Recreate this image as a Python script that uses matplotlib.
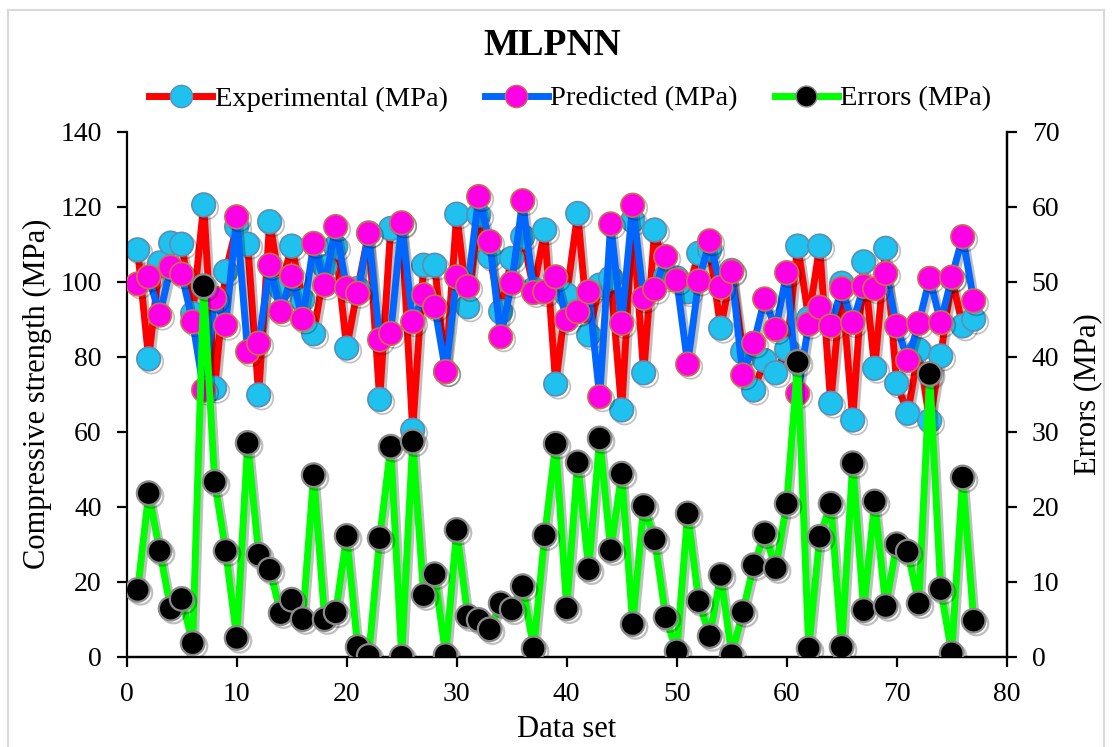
import numpy as np
import matplotlib
matplotlib.use('Agg')
import matplotlib.pyplot as plt
import matplotlib.patheffects as pe
from matplotlib.lines import Line2D
from matplotlib.patches import Rectangle

plt.rcParams['font.family'] = ['Liberation Serif', 'DejaVu Serif']

# compressive strength per sample, MPa
experimental = [108.5, 79.4, 105.0, 110.3, 110.0, 91.5, 120.5, 71.6, 102.7, 114.7,
                110.0, 69.8, 116.0, 98.2, 109.5, 95.1, 86.1, 104.0, 109.3, 82.3,
                98.2, 113.0, 68.6, 114.2, 115.5, 60.4, 104.4, 104.4, 76.0, 118.0,
                93.3, 117.8, 106.7, 92.0, 106.2, 112.0, 98.0, 113.8, 72.7, 96.5,
                118.2, 85.8, 99.1, 101.0, 65.8, 116.3, 75.7, 113.8, 101.3, 101.0,
                97.3, 107.6, 108.5, 87.6, 103.0, 81.3, 71.1, 79.0, 75.7, 82.0,
                109.5, 90.2, 109.5, 67.6, 99.6, 63.1, 105.3, 76.9, 108.9, 72.9,
                64.9, 81.8, 62.9, 80.2, 101.0, 88.2, 90.0]
predicted = [99.4, 101.3, 91.1, 103.9, 102.0, 89.3, 71.1, 95.6, 88.4, 117.3,
             81.3, 83.6, 104.4, 92.0, 101.5, 90.0, 110.2, 99.1, 114.7, 98.3,
             96.9, 112.9, 84.5, 86.2, 115.7, 89.3, 96.5, 93.3, 76.0, 101.3,
             98.7, 122.7, 110.7, 85.3, 99.6, 121.6, 97.1, 97.3, 101.3, 89.8,
             92.0, 97.3, 69.3, 115.4, 88.9, 120.4, 95.6, 98.0, 106.7, 100.4,
             78.0, 100.2, 110.9, 98.5, 102.7, 75.1, 83.6, 95.4, 87.3, 102.4,
             70.2, 88.7, 93.2, 88.2, 98.2, 89.1, 98.8, 98.1, 102.2, 88.2,
             79.0, 88.9, 100.9, 89.1, 101.2, 112.0, 94.9]
errors = [8.9, 21.8, 14.1, 6.4, 7.7, 1.8, 49.4, 23.3, 14.1, 2.5,
          28.5, 13.6, 11.6, 5.8, 7.6, 5.0, 24.2, 5.0, 5.9, 16.1,
          1.3, 0.1, 15.8, 28.0, 0.0, 28.7, 8.2, 11.0, 0.2, 16.9,
          5.4, 4.9, 3.65, 7.1, 6.3, 9.4, 1.1, 16.2, 28.4, 6.45,
          25.9, 11.65, 29.1, 14.2, 24.4, 4.35, 20.1, 15.65, 5.25, 0.7,
          19.1, 7.4, 2.75, 10.9, 0.2, 5.96, 12.2, 16.45, 11.8, 20.4,
          39.3, 1.1, 16.0, 20.4, 1.3, 25.8, 6.2, 20.7, 6.75, 15.0,
          14.0, 7.1, 37.7, 9.0, 0.45, 23.9, 4.8]
data_set = np.arange(1, len(experimental) + 1)

shadow = [pe.SimpleLineShadow(offset=(2, -2), alpha=0.25, rho=0.6), pe.Normal()]

fig = plt.figure(figsize=(11.12, 7.47), dpi=100)
fig.patches.append(Rectangle((0.007, -0.01), 0.986, 0.997, transform=fig.transFigure,
                             fill=False, edgecolor='#d9d9d9', linewidth=1.5))
ax = fig.add_axes([0.1139, 0.1209, 0.7914, 0.7028])
ax2 = ax.twinx()

ax.plot(data_set, experimental, color='#ff0000', lw=5, marker='o', ms=17,
        mfc='#1fc1ef', mec='#5a8fb5', mew=1.2, path_effects=shadow, zorder=2)
ax.plot(data_set, predicted, color='#0066ff', lw=5, marker='o', ms=17,
        mfc='#ff00e6', mec='#c87050', mew=1.2, path_effects=shadow, zorder=3)
ax2.plot(data_set, errors, color='#00ff00', lw=5, marker='o', ms=17,
         mfc='black', mec='#8a8a8a', mew=1.6, path_effects=shadow, zorder=3)

ax.set_xlim(0, 80)
ax.set_ylim(0, 140)
ax2.set_ylim(0, 70)
ax.set_xticks(range(0, 81, 10))
ax.set_yticks(range(0, 141, 20))
ax2.set_yticks(range(0, 71, 10))

for a in (ax, ax2):
    a.spines['top'].set_visible(False)
    for s in a.spines.values():
        s.set_linewidth(1.6)
    a.tick_params(direction='out', length=7, width=1.6, labelsize=20, pad=11)
ax2.spines['left'].set_visible(False)

ax.set_xlabel('Data set', fontsize=22, labelpad=6)
ax.set_ylabel('Compressive strength (MPa)', fontsize=22, labelpad=6)
ax2.set_ylabel('Errors (MPa)', fontsize=22, labelpad=10)

fig.text(0.497, 0.939, 'MLPNN', ha='center', va='center', fontsize=27, fontweight='bold')

handles = [
    Line2D([], [], color='#ff0000', lw=5, marker='o', ms=16, mfc='#1fc1ef', mec='#5a8fb5'),
    Line2D([], [], color='#0066ff', lw=5, marker='o', ms=16, mfc='#ff00e6', mec='#c87050'),
    Line2D([], [], color='#00ff00', lw=5, marker='o', ms=15, mfc='black', mec='#8a8a8a'),
]
labels = ['Experimental (MPa)', 'Predicted (MPa)', 'Errors (MPa)']
fig.legend(handles, labels, loc='center', bbox_to_anchor=(0.513, 0.868), ncol=3,
           frameon=False, fontsize=20.5, handlelength=2.2, handletextpad=0.1,
           columnspacing=1.3)

fig.savefig('out.png', dpi=100)
